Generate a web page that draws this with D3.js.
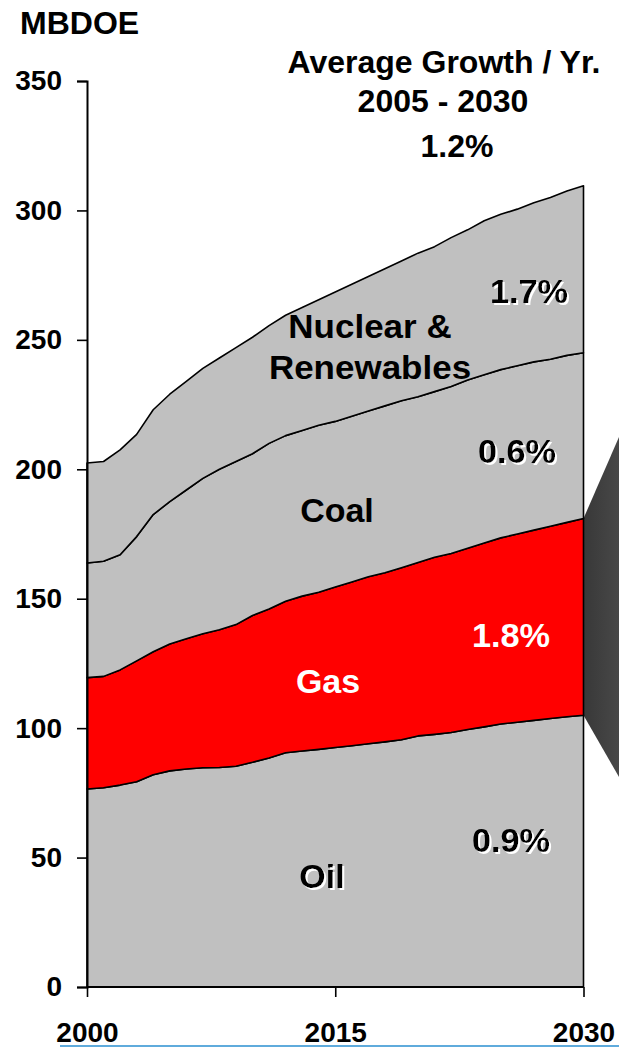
<!DOCTYPE html>
<html>
<head>
<meta charset="utf-8">
<script src="https://cdn.jsdelivr.net/npm/d3@7"></script>
<style>
  html, body { margin: 0; padding: 0; background: #fff; }
  svg { display: block; }
  text { font-family: Arial, "Liberation Sans", Helvetica, sans-serif; font-weight: bold; }
</style>
</head>
<body>
<svg id="chart" width="619" height="1047"></svg>
<script>
const years = d3.range(2000, 2031);
const oil  = [76.5,77,78,79.3,82,83.5,84.2,84.7,84.8,85.3,86.8,88.5,90.5,91.2,91.8,92.5,93.2,94,94.7,95.5,97,97.6,98.3,99.5,100.5,101.6,102.3,103,103.7,104.4,105];
const gas  = [43,43,44.5,46.7,47.5,49,50.3,51.8,53.2,54.7,56.7,57.5,58.5,59.8,60.7,62,63.3,64.5,65.3,66.5,67,68.4,69.2,70,71,71.9,72.7,73.5,74.3,75.1,76];
const coal = [44.3,44.5,44.5,48,53,55,57.5,60,62,63,62.5,64,64,64,64.5,64,64,64,64.5,64.5,64,64,64.5,65,65,65,65,65,64.5,64.5,64];
const nuclearRenewables = [38.6,38.5,40.5,39.5,40.5,41.5,42,42.5,43,44,45,45.5,46.5,47.5,48.5,50,51,52,53,54,55.5,56,57.5,58,59.5,60,60.5,61.5,62.5,63.5,64.5];
const seriesKeys = ["Oil", "Gas", "Coal", "Nuclear & Renewables"];
const seriesColors = {"Oil": "#c0c0c0", "Gas": "#ff0000", "Coal": "#c0c0c0", "Nuclear & Renewables": "#c0c0c0"};
const yTicks = [0, 50, 100, 150, 200, 250, 300, 350];
const xTicks = [2000, 2015, 2030];
const growth = {"Total": "1.2%", "Oil": "0.9%", "Gas": "1.8%", "Coal": "0.6%", "Nuclear & Renewables": "1.7%"};

const rows = years.map((yr, i) => ({
  year: yr, "Oil": oil[i], "Gas": gas[i], "Coal": coal[i], "Nuclear & Renewables": nuclearRenewables[i]
}));

const svg = d3.select("#chart");
const x = d3.scaleLinear().domain([2000, 2030]).range([87, 583.5]);
const y = d3.scaleLinear().domain([0, 350]).range([987, 81]);

const stacked = d3.stack().keys(seriesKeys)(rows);

const defs = svg.append("defs");
// white drop shadow for some labels
const f = defs.append("filter").attr("id", "wshadow")
  .attr("x", "-10%").attr("y", "-20%").attr("width", "130%").attr("height", "150%");
f.append("feOffset").attr("in", "SourceAlpha").attr("dx", 2).attr("dy", 2).attr("result", "off");
f.append("feFlood").attr("flood-color", "#fff").attr("result", "white");
f.append("feComposite").attr("in", "white").attr("in2", "off").attr("operator", "in").attr("result", "sh");
const fm = f.append("feMerge");
fm.append("feMergeNode").attr("in", "sh");
fm.append("feMergeNode").attr("in", "SourceGraphic");

// decorative callout on the right (gas wedge)
const last = rows[rows.length - 1];
const gasTop = last["Oil"] + last["Gas"];
const grad = defs.append("linearGradient").attr("id", "wedge")
  .attr("x1", "0%").attr("x2", "100%").attr("y1", "0%").attr("y2", "0%");
grad.append("stop").attr("offset", "0%").attr("stop-color", "#383838");
grad.append("stop").attr("offset", "100%").attr("stop-color", "#484848");
svg.append("path")
  .attr("d", `M${x(2030)},${y(gasTop)} L619,437 L619,777 L${x(2030)},${y(last["Oil"])} Z`)
  .attr("fill", "url(#wedge)");

const area = d3.area()
  .x(d => x(d.data.year))
  .y0(d => y(d[0]))
  .y1(d => y(d[1]));

svg.append("g").selectAll("path").data(stacked).join("path")
  .attr("d", area)
  .attr("fill", d => seriesColors[d.key])
  .attr("stroke", "#000")
  .attr("stroke-width", 1.6)
  .attr("stroke-linejoin", "round");

// axes
const yAxis = d3.axisLeft(y).tickValues(yTicks).tickSize(10).tickPadding(15).tickFormat(d3.format("d"));
const gy = svg.append("g").attr("transform", `translate(${x(2000)},0)`).call(yAxis);
gy.select(".domain").attr("stroke", "#000").attr("stroke-width", 2);
gy.selectAll(".tick line").attr("stroke", "#000").attr("stroke-width", 1.6);
gy.selectAll(".tick text").attr("font-size", 28).attr("fill", "#000")
  .attr("font-family", "Arial, 'Liberation Sans', sans-serif").attr("font-weight", "bold");

const xAxis = d3.axisBottom(x).tickValues(xTicks).tickSize(10).tickPadding(25).tickFormat(d3.format("d"));
const gx = svg.append("g").attr("transform", `translate(0,${y(0)})`).call(xAxis);
gx.select(".domain").attr("stroke", "#000").attr("stroke-width", 2).attr("d", `M${x(2000)},0H${x(2030)}`);
gx.selectAll(".tick line").attr("stroke", "#000").attr("stroke-width", 1.6);
gx.selectAll(".tick text").attr("font-size", 28).attr("fill", "#000")
  .attr("font-family", "Arial, 'Liberation Sans', sans-serif").attr("font-weight", "bold");

// titles
svg.append("text").attr("x", 20).attr("y", 34).attr("font-size", 32).text("MBDOE");

function label(t, cx, by, color, shadow, size, sx) {
  const g = svg.append("g").attr("transform", `translate(${cx},${by}) scale(${sx},1)`);
  const tx = g.append("text").attr("x", 0).attr("y", 0).attr("text-anchor", "middle")
    .attr("font-size", size).attr("fill", color).text(t);
  if (shadow) tx.attr("filter", "url(#wshadow)");
}
label("Average Growth / Yr.", 444, 73, "#000", false, 32, 1.0);
label("2005 - 2030", 443, 112, "#000", false, 32, 1.0);
label(growth["Total"], 457, 157, "#000", false, 32, 1.0);

label("Nuclear &", 370, 338, "#000", false, 33, 1.06);
label("Renewables", 370, 379, "#000", false, 33, 1.06);
label(growth["Nuclear & Renewables"], 529, 303, "#000", true, 33, 1.04);
label("Coal", 337, 522, "#000", false, 33, 1.03);
label(growth["Coal"], 517, 463, "#000", true, 33, 1.04);
label("Gas", 328, 693, "#fff", false, 33, 1.03);
label(growth["Gas"], 511, 647, "#fff", false, 33, 1.04);
label("Oil", 322, 888, "#000", true, 33, 1.03);
label(growth["Oil"], 511, 852, "#000", true, 33, 1.04);

// bottom blue rule
svg.append("line").attr("x1", 60).attr("x2", 619).attr("y1", 1046).attr("y2", 1046)
  .attr("stroke", "#2a8fd0").attr("stroke-width", 1.5);
</script>
</body>
</html>
